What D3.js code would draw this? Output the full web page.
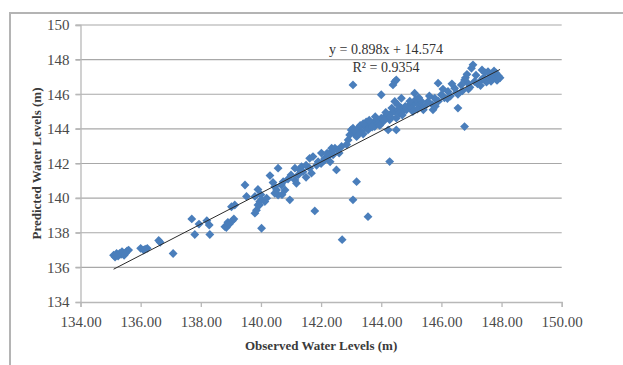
<!DOCTYPE html>
<html>
<head>
<meta charset="utf-8">
<script src="https://cdn.jsdelivr.net/npm/d3@7"></script>
<style>
  html, body { margin: 0; padding: 0; background: #fff; }
  svg { display: block; }
</style>
</head>
<body>
<div id="chart"></div>
<script>
// observed vs predicted water levels (m)
const observed = [
  135.10, 135.15, 135.20, 135.25, 135.30, 135.35, 135.40, 135.45, 135.50, 135.55,
  135.60, 135.38, 135.22, 135.48, 136.00, 136.10, 136.22, 136.15, 136.60, 136.65,
  137.08, 137.70, 137.80, 137.94, 138.20, 138.28, 138.30, 138.80, 138.90, 138.85,
  138.95, 139.05, 139.10, 139.02, 139.13, 139.47, 139.52, 139.80, 139.85, 139.90,
  139.96, 140.02, 140.13, 140.19, 139.80, 139.90, 140.00, 140.02, 140.30, 140.46,
  140.52, 140.68, 140.74, 140.80, 140.57, 140.46, 140.96, 140.57, 141.00, 141.13,
  141.18, 141.24, 141.29, 141.35, 141.40, 141.13, 141.62, 141.68, 141.62, 141.73,
  141.79, 142.01, 142.12, 142.23, 142.35, 142.40, 142.12, 142.35, 142.46, 142.56,
  142.68, 142.51, 142.70, 142.90, 142.95, 143.00, 143.06, 143.12, 143.18, 143.06,
  143.18, 143.06, 143.56, 143.23, 143.45, 143.56, 143.67, 143.78, 143.89, 144.00,
  144.12, 144.23, 144.34, 144.45, 144.56, 144.67, 144.78, 144.89, 145.00, 145.11,
  145.22, 145.34, 143.34, 143.56, 143.78, 144.06, 144.28, 144.50, 144.23, 144.50,
  144.28, 144.00, 144.45, 144.39, 144.50, 144.45, 144.67, 145.11, 144.84, 145.34,
  145.56, 145.78, 145.89, 146.00, 146.22, 146.44, 146.66, 146.88, 147.10, 147.33,
  146.77, 146.55, 146.77, 145.72, 147.05, 147.00, 147.55, 147.66, 147.77, 147.88,
  147.82, 147.60, 147.70, 147.85, 147.50, 147.40, 147.20, 146.95, 146.70, 146.50,
  146.30, 146.10, 145.90, 145.70, 145.45, 145.20, 147.90, 143.30, 143.50, 143.70,
  143.90, 144.10, 144.30, 144.60, 144.80, 145.00, 145.15, 143.40, 142.85, 142.60,
  142.20, 141.90, 141.50, 140.90, 140.70, 140.40, 139.95, 143.10, 143.25, 143.40,
  143.60, 143.80, 143.95, 144.15, 144.35, 144.55, 144.70, 144.95, 145.05, 145.25,
  145.40, 145.60, 145.80, 146.05, 146.20, 146.35, 146.55, 146.80, 146.90, 147.15,
  147.30, 147.45, 147.65, 147.75, 147.95, 147.35, 146.85, 141.50, 141.85, 142.30,
  142.00
];
const predicted = [
  136.70, 136.60, 136.80, 136.65, 136.80, 136.75, 136.85, 136.70, 136.85, 136.95,
  137.00, 136.90, 136.72, 136.78, 137.10, 137.00, 137.10, 137.05, 137.55, 137.45,
  136.80, 138.80, 137.90, 138.50, 138.70, 138.45, 137.90, 138.35, 138.60, 138.30,
  138.50, 138.70, 138.80, 139.50, 139.60, 140.76, 140.10, 139.13, 139.30, 139.60,
  139.80, 139.90, 139.80, 140.00, 140.10, 140.50, 140.20, 138.26, 141.30, 140.66,
  140.47, 140.76, 140.95, 140.47, 140.18, 140.28, 139.90, 141.73, 141.34, 141.05,
  140.86, 141.34, 141.63, 141.82, 141.53, 141.73, 141.73, 141.44, 142.30, 142.40,
  139.26, 142.60, 142.30, 142.40, 142.88, 142.50, 142.20, 142.69, 142.88, 142.79,
  142.98, 141.63, 137.60, 143.36, 143.65, 143.94, 144.04, 143.75, 143.55, 146.54,
  140.95, 139.90, 138.93, 144.04, 144.13, 144.23, 144.33, 144.42, 144.52, 144.62,
  144.71, 144.81, 144.91, 145.00, 145.10, 145.20, 145.10, 145.29, 145.39, 145.49,
  145.49, 145.58, 143.85, 143.94, 144.13, 144.42, 144.52, 144.62, 143.94, 143.94,
  142.11, 145.97, 146.73, 146.54, 146.83, 145.58, 145.77, 146.06, 145.10, 145.29,
  145.58, 145.77, 146.64, 145.97, 146.16, 146.35, 146.54, 146.64, 146.73, 146.83,
  146.83, 145.20, 144.13, 145.10, 147.70, 147.50, 147.31, 147.12, 147.02, 146.93,
  147.22, 147.00, 146.90, 146.80, 146.70, 146.95, 146.60, 146.40, 146.20, 146.10,
  145.90, 145.80, 145.60, 145.40, 145.30, 145.15, 147.05, 144.20, 144.40, 144.10,
  144.30, 144.50, 144.70, 144.90, 145.30, 145.20, 145.70, 143.70, 143.10, 142.60,
  142.60, 142.10, 141.90, 141.10, 140.20, 140.90, 139.60, 143.90, 143.70, 144.30,
  144.50, 144.70, 144.20, 144.95, 145.20, 145.40, 144.80, 145.60, 145.00, 145.80,
  145.10, 145.90, 145.30, 146.30, 145.75, 146.60, 146.00, 146.95, 146.30, 147.10,
  146.50, 147.25, 146.75, 147.35, 146.95, 147.40, 147.15, 141.20, 141.90, 142.10,
  142.00
];

const xTicks = [134, 136, 138, 140, 142, 144, 146, 148, 150];
const yTicks = [134, 136, 138, 140, 142, 144, 146, 148, 150];
const slope = 0.898;
const intercept = 14.574;
const rSquared = 0.9354;

const width = 623;
const height = 365;
const plot = { left: 80.5, right: 561.7, top: 25, bottom: 302 };

const svg = d3.select("#chart")
  .append("svg")
  .attr("width", width)
  .attr("height", height)
  .attr("viewBox", `0 0 ${width} ${height}`);

svg.append("rect").attr("width", width).attr("height", height).attr("fill", "#fff");

// outer frame (only top and left edges are visible in the capture)
svg.append("path")
  .attr("d", `M10,${height} V13 H${width}`)
  .attr("fill", "none")
  .attr("stroke", "#b4b4b4")
  .attr("stroke-width", 2);

const x = d3.scaleLinear().domain([134, 150]).range([plot.left, plot.right]);
const y = d3.scaleLinear().domain([134, 150]).range([plot.bottom, plot.top]);

// gridlines
svg.append("g")
  .selectAll("line")
  .data(yTicks.filter(d => d !== 134))
  .join("line")
  .attr("x1", plot.left - 5)
  .attr("x2", plot.right)
  .attr("y1", d => y(d))
  .attr("y2", d => y(d))
  .attr("stroke", "#a8a8a8")
  .attr("stroke-width", 1.2);

// y axis
const yAxis = svg.append("g")
  .attr("transform", `translate(${plot.left},0)`)
  .call(d3.axisLeft(y).tickValues(yTicks).tickSize(5).tickPadding(6).tickFormat(d3.format("d")));

// x axis
const xAxis = svg.append("g")
  .attr("transform", `translate(0,${plot.bottom})`)
  .call(d3.axisBottom(x).tickValues(xTicks).tickSize(5).tickPadding(9).tickFormat(d3.format(".2f")));

[yAxis, xAxis].forEach(g => {
  g.select(".domain").attr("stroke", "#b8b8b8").attr("stroke-width", 1.3);
  g.selectAll(".tick line").attr("stroke", "#b8b8b8").attr("stroke-width", 1.3);
  g.selectAll(".tick text")
    .attr("fill", "#4a4a4a")
    .style("font-family", "'Liberation Serif', 'Times New Roman', serif")
    .style("font-size", "15px");
});

// axis titles
svg.append("text")
  .attr("x", (plot.left + plot.right) / 2)
  .attr("y", 350)
  .attr("text-anchor", "middle")
  .attr("fill", "#3a3a3a")
  .style("font-family", "'Liberation Serif', 'Times New Roman', serif")
  .style("font-weight", "bold")
  .style("font-size", "13px")
  .text("Observed Water Levels (m)");

svg.append("text")
  .attr("transform", `translate(41,${(plot.top + plot.bottom) / 2}) rotate(-90)`)
  .attr("text-anchor", "middle")
  .attr("fill", "#3a3a3a")
  .style("font-family", "'Liberation Serif', 'Times New Roman', serif")
  .style("font-weight", "bold")
  .style("font-size", "13px")
  .text("Predicted Water Levels (m)");

// points
const points = observed.map((d, i) => ({ x: d, y: predicted[i] }));
const diamond = d3.symbol().type(d3.symbolDiamond2).size(50);

svg.append("g")
  .selectAll("path")
  .data(points)
  .join("path")
  .attr("transform", d => `translate(${x(d.x)},${y(d.y)})`)
  .attr("d", diamond)
  .attr("fill", "#4a7ebb");

// linear trendline across the observed range
const xMin = d3.min(observed);
const xMax = d3.max(observed);
const trend = [xMin, xMax].map(v => ({ x: v, y: slope * v + intercept }));

svg.append("path")
  .datum(trend)
  .attr("fill", "none")
  .attr("stroke", "#2a2a2a")
  .attr("stroke-width", 1)
  .attr("d", d3.line().x(d => x(d.x)).y(d => y(d.y)));

// equation label
const eq = svg.append("g")
  .attr("fill", "#333")
  .style("font-family", "'Liberation Serif', 'Times New Roman', serif")
  .style("font-size", "14px")
  .attr("text-anchor", "middle");

eq.append("text")
  .attr("x", 386)
  .attr("y", 54)
  .text(`y = ${slope}x + ${intercept}`);

eq.append("text")
  .attr("x", 386)
  .attr("y", 72)
  .text(`R² = ${rSquared}`);
</script>
</body>
</html>
